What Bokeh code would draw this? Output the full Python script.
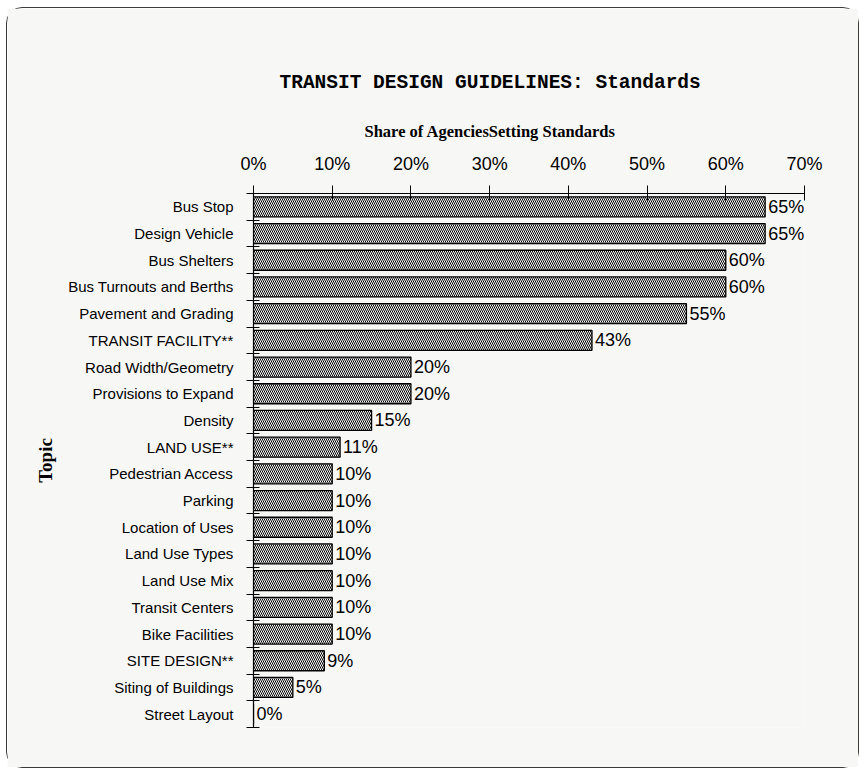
from bokeh.plotting import figure
from bokeh.models import Range1d, FixedTicker, Title, ColumnDataSource
from bokeh.core.properties import value
from bokeh.embed import file_html
from bokeh.resources import INLINE

topics = ["Bus Stop", "Design Vehicle", "Bus Shelters", "Bus Turnouts and Berths",
          "Pavement and Grading", "TRANSIT FACILITY**", "Road Width/Geometry",
          "Provisions to Expand", "Density", "LAND USE**", "Pedestrian Access",
          "Parking", "Location of Uses", "Land Use Types", "Land Use Mix",
          "Transit Centers", "Bike Facilities", "SITE DESIGN**",
          "Siting of Buildings", "Street Layout"]
shares = [65, 65, 60, 60, 55, 43, 20, 20, 15, 11, 10, 10, 10, 10, 10, 10, 10, 9, 5, 0]
x_ticks = [0, 10, 20, 30, 40, 50, 60, 70]
x_tick_labels = ["0%", "10%", "20%", "30%", "40%", "50%", "60%", "70%"]

n = len(topics)
ypos = [n - i - 0.5 for i in range(n)]
labels = [f"{v}%" for v in shares]
src = ColumnDataSource(dict(y=ypos, right=shares, label=labels))

BG = "#f7f7f5"
p = figure(width=853, height=761, output_backend="svg", toolbar_location=None,
           x_range=Range1d(0, 70), y_range=Range1d(0, n),
           x_axis_location="above",
           min_border_left=246, min_border_top=185, min_border_right=56,
           min_border_bottom=42,
           background_fill_color=BG, border_fill_color=BG,
           outline_line_color=None,
           styles={"border": "1.5px solid #3a3a3a", "border-radius": "16px",
                   "margin-left": "6px", "margin-top": "7px"})
p.grid.visible = False

p.hbar(y="y", right="right", left=0, height=0.75, source=src,
       fill_color="white", line_color="black", line_width=1.3,
       hatch_pattern="\\", hatch_color="black", hatch_scale=4, hatch_weight=1.0)

p.text(x="right", y="y", text="label", source=src, x_offset=3,
       text_baseline="middle", text_align="left",
       text_font=value("Liberation Sans"), text_font_size="18px", text_color="black")

# top axis
xa = p.xaxis[0]
xa.ticker = FixedTicker(ticks=x_ticks)
xa.major_label_overrides = {t: l for t, l in zip(x_ticks, x_tick_labels)}
xa.major_label_text_font = "Liberation Sans"
xa.major_label_text_font_size = "18px"
xa.major_label_text_color = "black"
xa.major_label_standoff = 12
xa.major_tick_in = 7
xa.major_tick_out = 8
xa.minor_tick_line_color = None
xa.axis_line_color = "black"
xa.axis_line_width = 1.2
xa.major_tick_line_color = "black"

# left axis
ya = p.yaxis[0]
ya.ticker = FixedTicker(ticks=ypos, minor_ticks=list(range(n + 1)))
ya.major_label_overrides = {y: t for y, t in zip(ypos, topics)}
ya.major_tick_in = 0
ya.major_tick_out = 0
ya.minor_tick_in = 6
ya.minor_tick_out = 7
ya.minor_tick_line_color = "black"
ya.axis_line_color = "black"
ya.axis_line_width = 1.2
ya.major_label_text_font = "Liberation Sans"
ya.major_label_text_font_size = "15px"
ya.major_label_text_color = "black"
ya.major_label_standoff = 13
ya.axis_label = "Topic"
ya.axis_label_text_font = "Liberation Serif"
ya.axis_label_text_font_style = "bold"
ya.axis_label_text_font_size = "19px"
ya.axis_label_text_color = "black"
ya.axis_label_standoff = 9

p.add_layout(Title(text="Share of AgenciesSetting Standards", align="left", offset=111,
                   text_font="Liberation Serif", text_font_style="bold",
                   text_font_size="16.5px", text_color="black", standoff=20), "above")
p.add_layout(Title(text="TRANSIT DESIGN GUIDELINES: Standards", align="left", offset=26,
                   text_font="Liberation Mono", text_font_style="bold",
                   text_font_size="19.5px", text_color="black", standoff=31), "above")

open("out.html", "w").write(file_html(p, INLINE))
